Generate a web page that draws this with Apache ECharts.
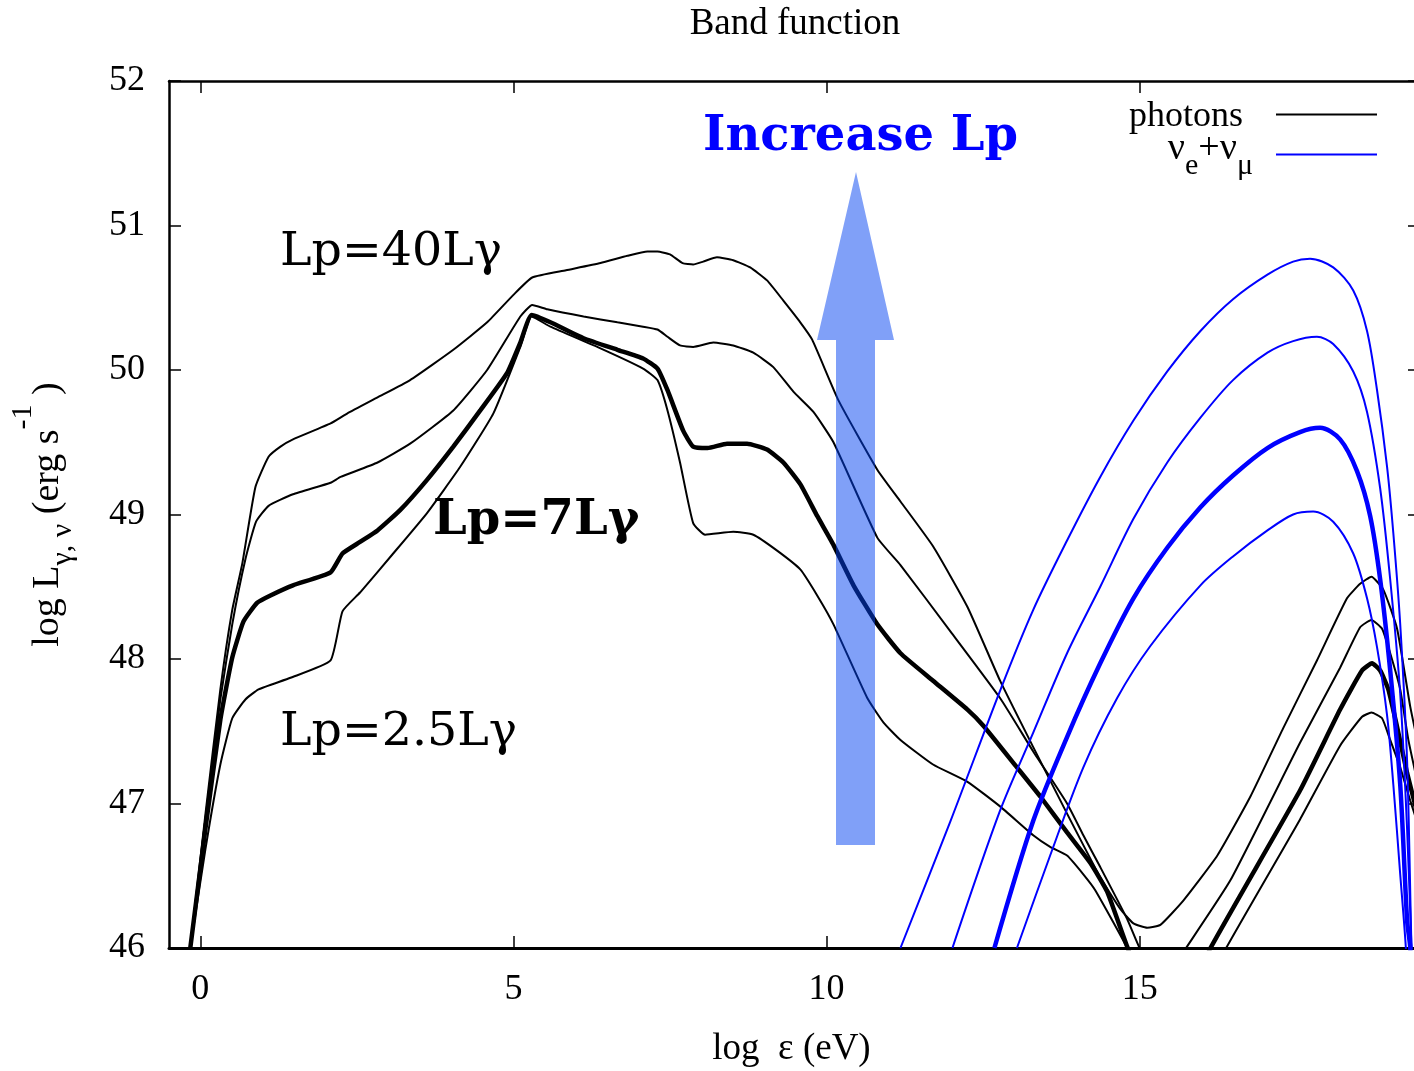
<!DOCTYPE html>
<html>
<head>
<meta charset="utf-8">
<title>Band function</title>
<script src="https://cdn.jsdelivr.net/npm/echarts@6.0.0/dist/echarts.min.js"></script>
<style>
  html, body { margin: 0; padding: 0; background: #fff; }
  #chart { width: 1414px; height: 1071px; }
</style>
</head>
<body>
<div id="chart"></div>
<script>
// tick labels
const xTicks = [0, 5, 10, 15]

// photon spectra, [log eps (eV), log L]
const photons2_5 = [[-0.16,46.00],[0.08,46.68],[0.32,47.27],[0.51,47.59],[0.72,47.72],[0.93,47.79],[1.44,47.87],[2.08,47.99],[2.27,48.33],[2.55,48.46],[3.08,48.73],[3.62,49.01],[4.15,49.33],[4.68,49.70],[5.11,50.16],[5.29,50.37],[5.59,50.30],[6.39,50.15],[7.07,50.01],[7.30,49.93],[7.46,49.72],[7.66,49.36],[7.87,48.94],[8.06,48.86],[8.51,48.88],[8.83,48.86],[9.21,48.75],[9.58,48.62],[9.85,48.44],[10.11,48.24],[10.65,47.73],[10.91,47.56],[11.18,47.44],[11.70,47.27],[12.25,47.15],[12.77,46.98],[13.30,46.78],[13.57,46.70],[13.84,46.64],[14.10,46.51],[14.29,46.40],[14.80,46.00],[15.30,45.50],[15.80,45.50],[16.38,46.00],[17.56,46.89],[18.20,47.40],[18.55,47.60],[18.70,47.63],[18.87,47.59],[19.00,47.44],[19.16,47.25],[19.32,47.02],[19.50,46.78]]
const photons7 = [[-0.16,46.00],[0.08,46.82],[0.32,47.58],[0.51,48.01],[0.69,48.26],[0.91,48.39],[1.12,48.44],[1.48,48.51],[2.08,48.60],[2.27,48.73],[2.55,48.81],[2.83,48.89],[3.19,49.03],[3.62,49.24],[4.04,49.47],[4.47,49.72],[4.90,49.98],[5.11,50.19],[5.29,50.38],[5.59,50.33],[6.12,50.22],[6.66,50.14],[7.07,50.08],[7.30,50.01],[7.46,49.86],[7.71,49.58],[7.87,49.47],[8.10,49.46],[8.41,49.49],[8.73,49.49],[9.05,49.45],[9.31,49.36],[9.58,49.21],[9.85,48.99],[10.11,48.79],[10.43,48.51],[10.81,48.24],[11.18,48.04],[11.70,47.85],[12.25,47.65],[12.50,47.54],[13.04,47.25],[13.41,47.05],[13.84,46.80],[14.21,46.59],[14.48,46.39],[14.80,46.01],[15.20,45.60],[15.70,45.60],[16.13,46.00],[17.56,47.09],[18.20,47.65],[18.55,47.92],[18.71,47.97],[18.84,47.92],[18.97,47.79],[19.11,47.53],[19.27,47.21],[19.50,46.82]]
const photons20 = [[-0.16,46.00],[0.08,46.89],[0.32,47.72],[0.51,48.24],[0.72,48.69],[0.89,48.95],[1.09,49.06],[1.48,49.14],[2.08,49.22],[2.24,49.26],[2.83,49.36],[3.35,49.49],[4.04,49.72],[4.58,50.00],[5.11,50.37],[5.30,50.45],[5.54,50.42],[6.12,50.37],[6.66,50.33],[7.07,50.30],[7.30,50.28],[7.46,50.23],[7.66,50.17],[7.87,50.16],[8.19,50.19],[8.51,50.17],[8.83,50.12],[9.15,50.02],[9.47,49.85],[9.79,49.71],[10.11,49.50],[10.81,48.84],[11.18,48.65],[11.98,48.19],[12.77,47.73],[13.30,47.36],[13.84,47.00],[14.10,46.78],[14.37,46.56],[14.80,46.20],[15.01,45.99],[15.25,45.85],[15.50,45.85],[15.74,46.00],[16.45,46.47],[17.56,47.42],[18.20,47.94],[18.52,48.22],[18.70,48.27],[18.87,48.21],[19.00,48.04],[19.16,47.79],[19.29,47.44],[19.50,47.02]]
const photons40 = [[-0.16,46.00],[0.08,46.92],[0.32,47.79],[0.51,48.34],[0.67,48.66],[0.88,49.19],[1.09,49.40],[1.28,49.47],[1.48,49.52],[2.08,49.63],[2.35,49.70],[2.83,49.81],[3.35,49.93],[4.04,50.14],[4.58,50.33],[5.00,50.52],[5.30,50.64],[5.84,50.69],[6.39,50.74],[6.82,50.79],[7.14,50.82],[7.30,50.82],[7.50,50.80],[7.70,50.74],[7.87,50.73],[8.03,50.75],[8.25,50.78],[8.51,50.76],[8.78,50.71],[9.05,50.62],[9.31,50.48],[9.58,50.33],[9.77,50.21],[10.19,49.79],[10.81,49.31],[11.18,49.09],[11.70,48.78],[12.25,48.36],[12.77,47.85],[13.30,47.39],[13.84,46.93],[14.37,46.49],[14.69,46.27],[14.90,46.17],[15.12,46.14],[15.33,46.16],[15.70,46.33],[16.24,46.64],[16.77,47.05],[17.29,47.52],[17.83,47.99],[18.31,48.42],[18.52,48.52],[18.70,48.57],[18.89,48.48],[19.11,48.21],[19.32,47.67],[19.50,47.30]]

// neutrino (nu_e + nu_mu) spectra
const nu2_5 = [[13.04,46.00],[13.57,46.64],[14.10,47.25],[14.64,47.73],[15.17,48.09],[15.97,48.51],[16.49,48.71],[17.04,48.89],[17.45,49.00],[17.77,49.02],[18.09,48.95],[18.41,48.73],[18.63,48.42],[18.79,48.08],[18.95,47.61],[19.05,47.13],[19.16,46.51],[19.25,46.00],[19.30,45.50]]
const nu7 = [[12.68,46.00],[13.30,46.88],[13.84,47.46],[14.37,47.97],[14.90,48.42],[15.44,48.77],[15.97,49.05],[16.49,49.27],[17.04,49.46],[17.56,49.57],[17.88,49.60],[18.20,49.52],[18.47,49.30],[18.68,48.99],[18.84,48.55],[19.00,47.92],[19.16,47.13],[19.27,46.19],[19.32,46.00],[19.36,45.50]]
const nu20 = [[12.01,46.00],[12.77,46.95],[13.30,47.49],[13.84,48.04],[14.37,48.50],[14.90,48.97],[15.44,49.36],[15.97,49.67],[16.49,49.93],[17.04,50.12],[17.45,50.20],[17.83,50.23],[18.09,50.18],[18.41,49.99],[18.63,49.71],[18.84,49.18],[19.00,48.55],[19.16,47.76],[19.27,46.82],[19.34,46.00],[19.38,45.50]]
const nu40 = [[11.18,46.00],[11.98,46.88],[12.77,47.78],[13.30,48.34],[13.84,48.82],[14.37,49.26],[14.90,49.65],[15.44,49.99],[15.97,50.27],[16.49,50.49],[17.04,50.66],[17.45,50.75],[17.72,50.77],[18.09,50.71],[18.41,50.55],[18.63,50.27],[18.79,49.86],[18.95,49.33],[19.05,48.87],[19.16,48.24],[19.27,47.29],[19.34,46.00],[19.38,45.50]]

const serif = '"Liberation Serif", "Times New Roman", serif'
const dejavu = '"DejaVu Serif", serif'
const BLUE = '#0000ff'

const chart = echarts.init(document.getElementById('chart'))

const curve = (name, data, color, width, smooth) => ({
  name,
  type: 'line',
  data,
  symbol: 'none',
  smooth,
  clip: true,
  silent: true,
  lineStyle: { color, width },
  itemStyle: { color }
})

const tickStyle = { inside: true, length: 12, lineStyle: { color: '#000', width: 1.5 } }

// the frame runs past the right edge of the picture, so the x range stops at 19.38
const option = {
  animation: false,
  backgroundColor: '#fff',
  grid: { left: 169, right: 0, top: 81, bottom: 123, outerBoundsMode: 'none' },
  xAxis: [
    {
      type: 'value', min: -0.5, max: 19.38, position: 'bottom',
      axisLine: { onZero: false, lineStyle: { color: '#000', width: 3 } },
      axisTick: { ...tickStyle, customValues: xTicks },
      axisLabel: { customValues: xTicks, margin: 24, fontSize: 36, lineHeight: 36, fontFamily: serif, color: '#000' },
      splitLine: { show: false },
      name: 'log  ε (eV)', nameLocation: 'middle', nameGap: 81,
      nameTextStyle: { fontSize: 37, lineHeight: 40, fontFamily: serif, color: '#000' }
    },
    {
      type: 'value', min: -0.5, max: 19.38, position: 'top',
      axisLine: { onZero: false, lineStyle: { color: '#000', width: 2.5 } },
      axisTick: { ...tickStyle, customValues: xTicks },
      axisLabel: { show: false },
      splitLine: { show: false }
    }
  ],
  yAxis: [
    {
      type: 'value', min: 46, max: 52, interval: 1, position: 'left',
      axisLine: { show: true, onZero: false, lineStyle: { color: '#000', width: 2.5 } },
      axisTick: { ...tickStyle },
      axisLabel: { margin: 24, fontSize: 36, fontFamily: serif, color: '#000' },
      splitLine: { show: false },
      name: '{n|log L}{sub|γ, ν}{n| (erg s}{sup|-1}{n| )}',
      nameLocation: 'middle', nameGap: 101,
      nameTextStyle: {
        color: '#000',
        rich: {
          n: { fontSize: 38, fontFamily: serif, lineHeight: 40, padding: [20, 0, 20, 0], color: '#000' },
          sub: { fontSize: 30, fontFamily: serif, lineHeight: 30, padding: [40, 0, 10, 0], color: '#000' },
          sup: { fontSize: 30, fontFamily: serif, lineHeight: 30, padding: [0, 0, 50, 0], color: '#000' }
        }
      }
    },
    {
      type: 'value', min: 46, max: 52, interval: 1, position: 'right',
      axisLine: { show: false, onZero: false },
      axisTick: { show: true, inside: true, length: 6, lineStyle: { color: '#000', width: 1.5 } },
      axisLabel: { show: false },
      splitLine: { show: false }
    }
  ],
  series: [
    curve('photons', photons2_5, '#000', 2, 0.15),
    curve('photons', photons20, '#000', 2, 0.15),
    curve('photons', photons40, '#000', 2, 0.15),
    curve('photons', photons7, '#000', 4.5, 0.15),
    curve('nu', nu2_5, BLUE, 2, 0.3),
    curve('nu', nu20, BLUE, 2, 0.3),
    curve('nu', nu40, BLUE, 2, 0.3),
    curve('nu', nu7, BLUE, 4.5, 0.3)
  ],
  graphic: [
    { type: 'text', z: 10, style: { text: 'Band function', x: 795, y: 24, align: 'center', verticalAlign: 'middle', font: '37px ' + serif, fill: '#000' } },
    // legend
    { type: 'text', z: 10, style: { text: 'photons', x: 1243, y: 117, align: 'right', verticalAlign: 'middle', font: '36px ' + serif, fill: '#000' } },
    { type: 'line', z: 10, shape: { x1: 1276, y1: 114.5, x2: 1377, y2: 114.5 }, style: { stroke: '#000', lineWidth: 2 } },
    {
      type: 'text', z: 10,
      style: {
        text: '{n|ν}{s|e}{n|+ν}{s|μ}', x: 1253, y: 157, align: 'right', verticalAlign: 'middle',
        rich: {
          n: { fontSize: 38, fontFamily: serif, lineHeight: 40, padding: [0, 0, 16, 0], fill: '#000' },
          s: { fontSize: 30, fontFamily: serif, lineHeight: 30, padding: [22, 0, 4, 0], fill: '#000' }
        }
      }
    },
    { type: 'line', z: 10, shape: { x1: 1276, y1: 154.5, x2: 1377, y2: 154.5 }, style: { stroke: BLUE, lineWidth: 2 } },
    // annotations
    { type: 'text', z: 10, style: { text: 'Increase Lp', x: 703, y: 138, verticalAlign: 'middle', font: 'bold 48px ' + dejavu, fill: BLUE } },
    { type: 'text', z: 10, style: { text: 'Lp=40Lγ', x: 280, y: 253, verticalAlign: 'middle', font: '47.5px ' + dejavu, fill: '#000' } },
    { type: 'text', z: 10, style: { text: 'Lp=7Lγ', x: 433, y: 522, verticalAlign: 'middle', font: 'bold 48px ' + dejavu, fill: '#000' } },
    { type: 'text', z: 10, style: { text: 'Lp=2.5Lγ', x: 280, y: 733, verticalAlign: 'middle', font: '47.5px ' + dejavu, fill: '#000' } },
    {
      type: 'polygon', z: 20,
      shape: { points: [[836, 845], [875, 845], [875, 340], [894, 340], [856, 172], [817, 340], [836, 340]] },
      style: { fill: 'rgba(1, 65, 241, 0.5)' }
    }
  ]
}

chart.setOption(option)
</script>
</body>
</html>
